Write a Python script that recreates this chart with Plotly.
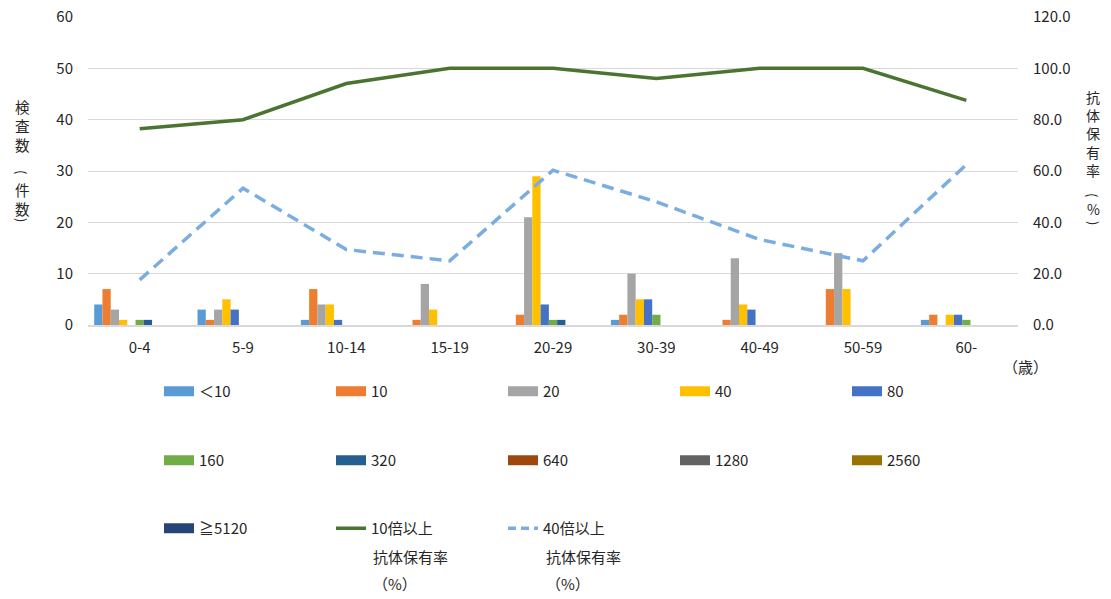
import plotly.graph_objects as go

# Age groups (x axis)
age_groups = ["0-4", "5-9", "10-14", "15-19", "20-29", "30-39", "40-49", "50-59", "60-"]

# Number of samples per antibody titer, per age group
titer_labels = ["＜10", "10", "20", "40", "80", "160", "320", "640", "1280", "2560", "≧5120"]
titer_lt10 = [4, 3, 1, 0, 0, 1, 0, 0, 1]
titer_10 = [7, 1, 7, 1, 2, 2, 1, 7, 2]
titer_20 = [3, 3, 4, 8, 21, 10, 13, 14, 0]
titer_40 = [1, 5, 4, 3, 29, 5, 4, 7, 2]
titer_80 = [0, 3, 1, 0, 4, 5, 3, 0, 2]
titer_160 = [1, 0, 0, 0, 1, 2, 0, 0, 1]
titer_320 = [1, 0, 0, 0, 1, 0, 0, 0, 0]
titer_640 = [0, 0, 0, 0, 0, 0, 0, 0, 0]
titer_1280 = [0, 0, 0, 0, 0, 0, 0, 0, 0]
titer_2560 = [0, 0, 0, 0, 0, 0, 0, 0, 0]
titer_ge5120 = [0, 0, 0, 0, 0, 0, 0, 0, 0]

# Seroprevalence (%) at titer >= 10 and >= 40
rate_ge10 = [76.5, 80.0, 94.1, 100.0, 100.0, 96.0, 100.0, 100.0, 87.5]
rate_ge40 = [17.6, 53.3, 29.4, 25.0, 60.3, 48.0, 33.3, 25.0, 62.5]

left_ticks = [0, 10, 20, 30, 40, 50, 60]
right_ticks = [0, 20, 40, 60, 80, 100, 120]

titer_series = [titer_lt10, titer_10, titer_20, titer_40, titer_80, titer_160,
                titer_320, titer_640, titer_1280, titer_2560, titer_ge5120]
titer_colors = ["#5B9BD5", "#ED7D31", "#A5A5A5", "#FFC000", "#4472C4", "#70AD47",
                "#255E91", "#9E480E", "#636363", "#997300", "#264478"]

FONT = "Noto Sans CJK JP"
TXT = "#262626"
W, H = 1111, 599
ML, MR, MT, MB = 88, 93, 17, 274
PW, PH = W - ML - MR, H - MT - MB


def px_x(x):
    return (x - ML) / PW


def px_y(y):
    return (H - MB - y) / PH


fig = go.Figure()

for lbl, vals, col in zip(titer_labels, titer_series, titer_colors):
    fig.add_trace(go.Bar(
        x=age_groups, y=vals, name=lbl, marker=dict(color=col, line=dict(width=0)),
        showlegend=False, yaxis="y",
    ))

fig.add_trace(go.Scatter(
    x=age_groups, y=rate_ge10, mode="lines", yaxis="y2", showlegend=False,
    name="10倍以上抗体保有率（%）", line=dict(color="#4A7430", width=3.5),
))
fig.add_trace(go.Scatter(
    x=age_groups, y=rate_ge40, mode="lines", yaxis="y2", showlegend=False,
    name="40倍以上抗体保有率（%）",
    line=dict(color="#7BADE0", width=3.5, dash="12px,7px"),
))

# Legend entries: wide flat swatches in three rows
legend_ids = ["legend", "legend2", "legend3"]
for i, (lbl, col) in enumerate(zip(titer_labels, titer_colors)):
    fig.add_trace(go.Scatter(
        x=[None], y=[None], mode="lines", name=lbl,
        line=dict(color=col, width=10), legend=legend_ids[i // 5],
    ))
fig.add_trace(go.Scatter(
    x=[None], y=[None], mode="lines", name="10倍以上",
    line=dict(color="#4A7430", width=3.5), legend="legend3",
))
fig.add_trace(go.Scatter(
    x=[None], y=[None], mode="lines", name="40倍以上",
    line=dict(color="#7BADE0", width=3.5, dash="8px,5px"), legend="legend3",
))

legend_common = dict(
    orientation="h", entrywidth=127, entrywidthmode="pixels",
    xanchor="left", x=px_x(159), yanchor="top", valign="top",
    font=dict(family=FONT, size=15, color=TXT), bgcolor="rgba(0,0,0,0)",
    traceorder="normal",
)

fig.update_layout(
    width=W, height=H,
    margin=dict(l=ML, r=MR, t=MT, b=MB, autoexpand=False),
    paper_bgcolor="white", plot_bgcolor="white",
    font=dict(family=FONT, size=15, color=TXT),
    barmode="group", bargap=0.12, bargroupgap=0,
    xaxis=dict(
        type="category", showgrid=False, zeroline=False,
        showline=True, linecolor="#D9D9D9", linewidth=1.5,
        ticks="", tickfont=dict(family=FONT, size=15, color=TXT),
        ticklabelstandoff=8,
    ),
    yaxis=dict(
        range=[0, 60], tickvals=left_ticks, showgrid=True, gridcolor="#D9D9D9",
        gridwidth=1, zeroline=False, showline=False, ticks="",
        tickfont=dict(family=FONT, size=15, color=TXT), ticklabelstandoff=14,
    ),
    yaxis2=dict(
        range=[0, 120], tickvals=right_ticks, tickformat=".1f",
        overlaying="y", side="right", showgrid=False, zeroline=False,
        showline=False, ticks="", ticklabelstandoff=14,
        tickfont=dict(family=FONT, size=15, color=TXT),
    ),
    legend=dict(legend_common, y=px_y(375)),
    legend2=dict(legend_common, y=px_y(444)),
    legend3=dict(legend_common, y=px_y(512)),
)

# Continuation lines of the two rate legend labels
for xpx, ypx, txt in [(371, 556, "抗体保有率"), (544, 556, "抗体保有率"),
                      (371, 583, "（%）"), (544, 583, "（%）")]:
    fig.add_annotation(
        text=txt, xref="paper", yref="paper", x=px_x(xpx), y=px_y(ypx),
        xanchor="left", yanchor="middle", showarrow=False,
        font=dict(family=FONT, size=15, color=TXT),
    )


def add_text(txt, xpx, ypx, size, angle=0):
    fig.add_annotation(
        text=txt, xref="paper", yref="paper", x=px_x(xpx), y=px_y(ypx),
        xanchor="center", yanchor="middle", showarrow=False, textangle=angle,
        font=dict(family=FONT, size=size, color=TXT),
    )


# Vertical axis titles: stacked characters, brackets turned 90 degrees
add_text("<br>".join("検査数"), 22, 125, 14.6)
add_text("(", 22, 172, 13, 90)
add_text("<br>".join("件数"), 22, 199.5, 14.6)
add_text(")", 22, 220, 13, 90)

add_text("<br>".join("抗体保有率"), 1093, 133.5, 14)
add_text("(", 1093, 195, 13, 90)
add_text("%", 1093, 209, 14)
add_text(")", 1093, 223, 13, 90)

add_text("（歳）", 1025, 367, 15)

fig.write_html("out.html")
